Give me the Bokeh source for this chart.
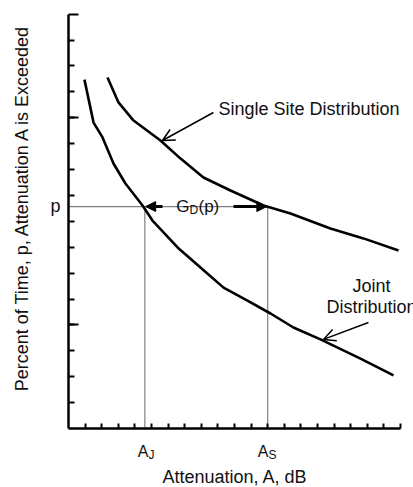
import math
from bokeh.plotting import figure
from bokeh.models import Range1d, FixedTicker, Label, Arrow, OpenHead, NormalHead
from bokeh.embed import file_html
from bokeh.resources import INLINE

# ---- data ----
single_x = [2.35, 3.01, 3.92, 5.54, 6.75, 8.13, 9.76, 11.75, 13.37, 15.78, 17.77, 19.88]
single_y = [13.55, 12.59, 11.89, 11.12, 10.42, 9.69, 9.19, 8.61, 8.30, 7.72, 7.34, 6.87]
joint_x = [0.96, 1.51, 2.05, 2.71, 3.43, 4.46, 5.06, 6.57, 7.95, 9.34, 10.78, 12.17, 13.55, 15.18, 17.59, 19.58]
joint_y = [13.47, 11.81, 11.24, 10.23, 9.46, 8.61, 8.03, 6.99, 6.22, 5.44, 4.94, 4.44, 3.90, 3.44, 2.70, 2.05]
p_level = 8.57
a_j = 4.6
a_s = 12.0
x_ticks = list(range(1, 21))
y_major_ticks = [4, 12, 16]
y_minor_ticks = list(range(1, 16))
x_label = "Attenuation, A, dB"
y_label = "Percent of Time, p, Attenuation A is Exceeded"

FONT = "Liberation Sans"
W, H = 413, 487
SX, SY = 16.6, 25.9          # pixels per data unit
OX, OY = 68, 428             # pixel position of the data origin

p = figure(width=W, height=H, output_backend="svg", toolbar_location=None,
           x_range=Range1d(-OX / SX, (W - OX) / SX),
           y_range=Range1d(-(H - OY) / SY, OY / SY),
           min_border_left=0, min_border_right=0, min_border_top=0, min_border_bottom=0)
p.outline_line_color = None
p.xgrid.visible = False
p.ygrid.visible = False
p.background_fill_color = "white"

# x axis
xa = p.xaxis[0]
xa.fixed_location = 0
xa.bounds = (0, 20)
xa.ticker = FixedTicker(ticks=x_ticks, minor_ticks=[])
xa.major_tick_in = 5
xa.major_tick_out = 0
xa.major_tick_line_width = 2
xa.axis_line_width = 2.5
xa.major_label_text_color = None

# y axis
ya = p.yaxis[0]
ya.fixed_location = 0
ya.bounds = (0, 16)
ya.ticker = FixedTicker(ticks=y_major_ticks, minor_ticks=y_minor_ticks)
ya.major_tick_in = 10
ya.major_tick_out = 0
ya.minor_tick_in = 6
ya.minor_tick_out = 0
ya.major_tick_line_width = 2
ya.minor_tick_line_width = 2
ya.axis_line_width = 2.5
ya.major_label_text_color = None

# dotted guides
p.line([0, a_s], [p_level, p_level], line_color="black", line_width=1.2, line_dash="1 1")
p.line([a_j, a_j], [0, p_level], line_color="black", line_width=1.2, line_dash="1 1")
p.line([a_s, a_s], [0, p_level], line_color="black", line_width=1.2, line_dash="1 1")

# curves
p.line(single_x, single_y, line_color="black", line_width=2.6)
p.line(joint_x, joint_y, line_color="black", line_width=2.6)

# pointer arrows
p.add_layout(Arrow(end=OpenHead(size=12, line_width=1.5, line_color="black"),
                   x_start=8.73, y_start=12.2, x_end=5.66, y_end=11.12,
                   line_width=1.5, line_color="black"))
p.add_layout(Arrow(end=OpenHead(size=12, line_width=1.5, line_color="black"),
                   x_start=18.07, y_start=4.09, x_end=15.36, y_end=3.44,
                   line_width=1.5, line_color="black"))

# G_D(p) arrows
p.add_layout(Arrow(end=NormalHead(size=10, fill_color="black", line_color="black"),
                   x_start=5.66, y_start=p_level, x_end=a_j + 0.05, y_end=p_level,
                   line_width=3, line_color="black"))
p.add_layout(Arrow(end=NormalHead(size=10, fill_color="black", line_color="black"),
                   x_start=9.94, y_start=p_level, x_end=a_s - 0.05, y_end=p_level,
                   line_width=3, line_color="black"))


def px2x(px):
    return (px - OX) / SX


def py2y(py):
    return (OY - py) / SY


def lab(text, x, y, size, align="left", baseline="alphabetic", angle=0.0):
    p.add_layout(Label(x=x, y=y, text=text, text_font=FONT, text_font_size=size,
                       text_align=align, text_baseline=baseline, angle=angle,
                       text_color="#111111"))


# texts
lab("Single Site Distribution", px2x(218), py2y(108), "18px")
lab("Joint", px2x(371), py2y(285), "18px", align="center")
lab("Distribution", px2x(371), py2y(306), "18px", align="center")

lab("G", px2x(189), py2y(206), "17px", align="right")
lab("D", px2x(189), py2y(209), "12px", align="left")
lab("(p)", px2x(198), py2y(206), "17px", align="left")

lab("p", px2x(55), py2y(205), "18px", align="center")

lab("A", px2x(148), py2y(451), "16px", align="right")
lab("J", px2x(148), py2y(454), "12px", align="left")
lab("A", px2x(268), py2y(451), "16px", align="right")
lab("S", px2x(268), py2y(454), "12px", align="left")

lab(x_label, px2x(234.5), py2y(476), "18px", align="center")
lab(y_label, px2x(21), py2y(207), "18px", align="center", angle=math.pi / 2)

open("out.html", "w").write(file_html(p, INLINE))
